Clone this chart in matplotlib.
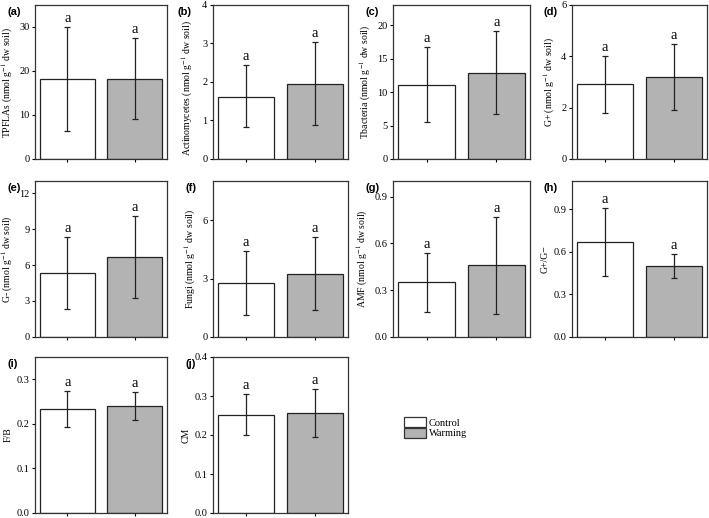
import matplotlib
matplotlib.use("Agg")
import matplotlib.pyplot as plt
from matplotlib.patches import Patch

plt.rcParams["font.family"] = ["Liberation Serif", "DejaVu Serif"]
plt.rcParams["mathtext.fontset"] = "stix"

# data: [control, warming]
panels = ["(a)", "(b)", "(c)", "(d)", "(e)", "(f)", "(g)", "(h)", "(i)", "(j)"]
ylabels = [
    "TPFLAs (nmol g$^{-1}$ dw soil)",
    "Actinomycetes (nmol g$^{-1}$ dw soil)",
    "Tbacteria (nmol g$^{-1}$ dw soil)",
    "G+ (nmol g$^{-1}$ dw soil)",
    "G- (nmol g$^{-1}$ dw soil)",
    "Fungi (nmol g$^{-1}$ dw soil)",
    "AMF (nmol g$^{-1}$ dw soil)",
    "G+/G\u2212",
    "F/B",
    "CM",
]
means = [
    [18.2, 18.2],
    [1.62, 1.95],
    [11.1, 12.9],
    [2.92, 3.19],
    [5.35, 6.66],
    [2.79, 3.25],
    [0.354, 0.461],
    [0.673, 0.503],
    [0.233, 0.239],
    [0.252, 0.256],
]
err_hi = [
    [30.0, 27.4],
    [2.43, 3.04],
    [16.7, 19.1],
    [4.0, 4.47],
    [8.32, 10.1],
    [4.43, 5.14],
    [0.54, 0.771],
    [0.909, 0.586],
    [0.274, 0.271],
    [0.304, 0.318],
]
err_lo = [
    [6.4, 9.0],
    [0.83, 0.88],
    [5.46, 6.7],
    [1.8, 1.92],
    [2.36, 3.27],
    [1.15, 1.37],
    [0.163, 0.15],
    [0.427, 0.418],
    [0.192, 0.208],
    [0.199, 0.194],
]
letters = [["a", "a"]] * 10
ylims = [35, 4, 23, 6, 13, 8, 1.0, 1.1, 0.35, 0.4]
yticks = [
    [0, 10, 20, 30],
    [0, 1, 2, 3, 4],
    [0, 5, 10, 15, 20],
    [0, 2, 4, 6],
    [0, 3, 6, 9, 12],
    [0, 3, 6],
    [0.0, 0.3, 0.6, 0.9],
    [0.0, 0.3, 0.6, 0.9],
    [0.0, 0.1, 0.2, 0.3],
    [0.0, 0.1, 0.2, 0.3, 0.4],
]
groups = ["Control", "Warming"]
colors = ["white", "#b3b3b3"]

W, H = 709, 518
col_l = [35, 213, 393, 572]
col_r = [167, 348, 530, 707]
row_t = [5, 181, 357]
row_b = [159, 337, 513]

fig = plt.figure(figsize=(W / 100, H / 100), dpi=100)

for i in range(10):
    r, c = divmod(i, 4)
    l, rr, t, b = col_l[c], col_r[c], row_t[r], row_b[r]
    ax = fig.add_axes([l / W, 1 - b / H, (rr - l) / W, (b - t) / H])
    x = [0, 1]
    m = means[i]
    yerr = [[m[k] - err_lo[i][k] for k in range(2)],
            [err_hi[i][k] - m[k] for k in range(2)]]
    ax.bar(x, m, width=0.82, color=colors, edgecolor="#222222", linewidth=0.9)
    ax.errorbar(x, m, yerr=yerr, fmt="none", ecolor="#222222",
                elinewidth=0.9, capsize=2, capthick=0.9)
    for k in range(2):
        ax.annotate(letters[i][k], xy=(x[k], err_hi[i][k]), xytext=(0, 1.5),
                    textcoords="offset points", ha="center", va="bottom",
                    fontsize=10.5)
    ax.set_xlim(-0.48, 1.48)
    ax.set_ylim(0, ylims[i])
    ax.set_yticks(yticks[i])
    ax.set_xticks(x)
    ax.set_xticklabels([])
    ax.tick_params(direction="out", length=2.5, width=0.8, labelsize=7.5, pad=1.5)
    ax.set_ylabel(ylabels[i], fontsize=7, labelpad=3)
    if i == 1:
        ax.yaxis.set_label_coords(-0.135, 0.46)
    for s in ax.spines.values():
        s.set_linewidth(0.9)
        s.set_color("#333333")
    dx = 36 if i == 1 else 28
    fig.text((l - dx) / W, 1 - (t + 7) / H, panels[i], fontsize=8,
             fontweight="bold", family="Liberation Sans", va="center", ha="left")

handles = [Patch(facecolor=colors[k], edgecolor="#333333", linewidth=0.9)
           for k in range(2)]
fig.legend(handles, groups, loc="upper left",
           bbox_to_anchor=(404 / W, 1 - 417 / H), frameon=False,
           fontsize=7.5, handlelength=2.1, handleheight=1.15,
           labelspacing=0.0, handletextpad=0.3, borderpad=0, borderaxespad=0)

fig.savefig("out.png", dpi=100)
